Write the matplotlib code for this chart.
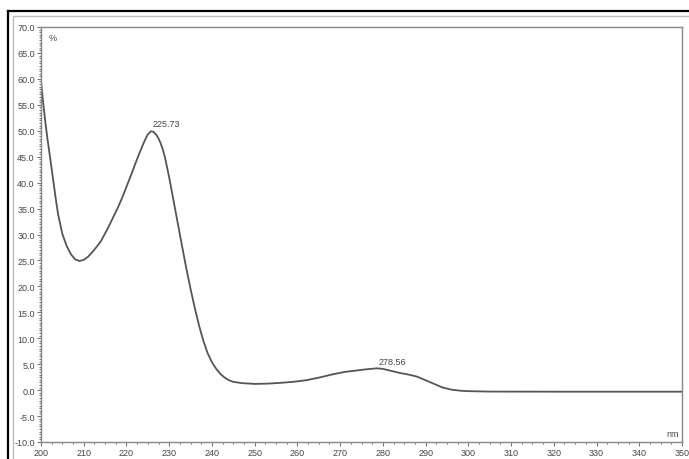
import matplotlib
matplotlib.use("Agg")
from matplotlib import pyplot as plt
from matplotlib.lines import Line2D
from matplotlib.patches import Rectangle
from matplotlib.ticker import MultipleLocator, AutoMinorLocator, FormatStrFormatter

# spectrum (wavelength nm, %)
wavelength = [200, 200.5, 201, 201.5, 202, 202.5, 203, 203.5, 204, 205,
              206, 207, 208, 209, 210, 211, 212, 213, 214, 215,
              216, 217, 218, 219, 220, 221, 222, 223, 223.5, 224,
              224.5, 225, 225.73, 226.3, 227, 227.5, 228, 228.5, 229, 230,
              231, 232, 233, 234, 235, 236, 237, 238, 239, 240,
              241, 242, 243, 244, 245, 247, 250, 253, 256, 259,
              262, 265, 268, 271, 274, 276, 278.56, 280, 282, 284,
              286, 288, 290, 292, 294, 296, 298, 300, 305, 320,
              350]
absorb = [59.5, 55.5, 51.8, 48.5, 45.6, 42.6, 39.6, 36.6, 33.9, 30.1,
          27.8, 26.2, 25.2, 24.9, 25.1, 25.7, 26.6, 27.6, 28.7, 30.2,
          31.8, 33.5, 35.2, 37.1, 39.2, 41.3, 43.5, 45.6, 46.6, 47.6,
          48.5, 49.3, 49.9, 49.8, 49.2, 48.5, 47.6, 46.4, 44.9, 41.0,
          36.6, 32.2, 27.8, 23.5, 19.5, 15.8, 12.4, 9.5, 7.1, 5.4,
          4.1, 3.1, 2.4, 1.9, 1.6, 1.35, 1.2, 1.25, 1.4, 1.6,
          1.9, 2.4, 3.0, 3.5, 3.8, 4.0, 4.2, 4.1, 3.7, 3.3,
          3.0, 2.6, 1.9, 1.2, 0.5, 0.1, -0.1, -0.2, -0.28, -0.3,
          -0.3]

peaks = [225.73, 278.56]

plt.rcParams['font.family'] = ['Liberation Sans', 'DejaVu Sans']

fig = plt.figure(figsize=(6.89, 4.60), dpi=100)
ax = fig.add_axes([41 / 689, 17 / 460, 641 / 689, 415 / 460])

ax.plot(wavelength, absorb, color='#555555', linewidth=1.3, solid_joinstyle='round')

for p in peaks:
    val = absorb[wavelength.index(p)]
    ax.annotate(f'{p:.2f}', xy=(p, val), xytext=(1, 2), textcoords='offset points',
                ha='left', va='bottom', fontsize=6.5, color='#444444')

ax.set_xlim(200, 350)
ax.set_ylim(-10, 70)
ax.xaxis.set_major_locator(MultipleLocator(10))
ax.xaxis.set_minor_locator(AutoMinorLocator(4))
ax.yaxis.set_major_locator(MultipleLocator(5))
ax.yaxis.set_minor_locator(AutoMinorLocator(10))
ax.yaxis.set_major_formatter(FormatStrFormatter('%.1f'))
ax.tick_params(which='both', direction='out', colors='#777777', labelcolor='#444444',
               labelsize=6.5, width=0.8, pad=1.5)
ax.tick_params(which='major', length=3)
ax.tick_params(which='minor', length=1.5)
for s in ax.spines.values():
    s.set_color('#888888')
    s.set_linewidth(1.0)

ax.text(0.012, 0.985, '%', transform=ax.transAxes, ha='left', va='top',
        fontsize=6.5, color='#444444')
ax.text(0.995, 0.02, 'nm', transform=ax.transAxes, ha='right', va='center',
        fontsize=6.5, color='#444444')

# page frame around the printout
fig.add_artist(Rectangle((12.5 / 689, -0.1), 1.0, 0.1 + 1 - 17 / 460,
                         transform=fig.transFigure, fill=False,
                         edgecolor='#bbbbbb', linewidth=1.0))
fig.add_artist(Line2D([8 / 689, 1], [1 - 12 / 460] * 2, color='black', linewidth=1.6))
fig.add_artist(Line2D([8 / 689] * 2, [0, 1 - 12 / 460], color='black', linewidth=1.6))

fig.savefig('out.png', dpi=100)
